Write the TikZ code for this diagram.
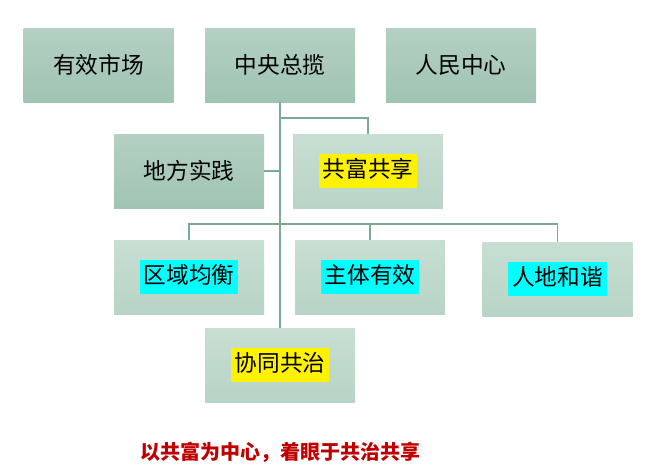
\documentclass[tikz,border=0pt]{standalone}
\usepackage{fontspec}
\setmainfont{Noto Sans CJK SC}
\begin{document}
\begin{tikzpicture}[x=0.75pt,y=-0.75pt,
  dk/.style={draw=none,minimum width=112.5pt,minimum height=55.5pt,top color=green!20!teal!5!white!0!, top color={rgb,255:red,180;green,208;blue,195},bottom color={rgb,255:red,160;green,196;blue,179},font=\fontsize{17}{17}\selectfont},
  lt/.style={draw=none,minimum width=112.5pt,minimum height=55.5pt,top color={rgb,255:red,200;green,222;blue,211},bottom color={rgb,255:red,184;green,212;blue,199},font=\fontsize{17}{17}\selectfont},
  ln/.style={draw={rgb,255:red,122;green,170;blue,148},line width=0.9pt}]
\useasboundingbox (0,0) rectangle (654,468);
\definecolor{cy}{RGB}{0,255,255}
\node[dk] (a) at (98.5,65) {有效市场};
\node[dk] (b) at (280,65) {中央总揽};
\node[dk] (c) at (461,65) {人民中心};
\node[dk] (d) at (189,171) {地方实践};
\node[lt] (e) at (368,171) {\colorbox{yellow}{\strut 共富共享}};
\node[lt] (f) at (189,277) {\colorbox{cy}{\strut 区域均衡}};
\node[lt] (g) at (370,277) {\colorbox{cy}{\strut 主体有效}};
\node[lt] (h) at (557.5,279) {\colorbox{cy}{\strut 人地和谐}};
\node[lt] (i) at (280,365) {\colorbox{yellow}{\strut 协同共治}};
\draw[ln] (b.south) -- (i.north);
\draw[ln] (280,118) -| (e.north);
\draw[ln] (d.east) -- (280,171);
\draw[ln] (f.north) |- (280,224) -| (h.north);
\draw[ln] (g.north) -- (370,224);
\node[text={rgb,255:red,192;green,0;blue,0},font=\bfseries\fontsize{15}{15}\selectfont] (t) at (280,452) {以共富为中心，着眼于共治共享};
\end{tikzpicture}
\end{document}
